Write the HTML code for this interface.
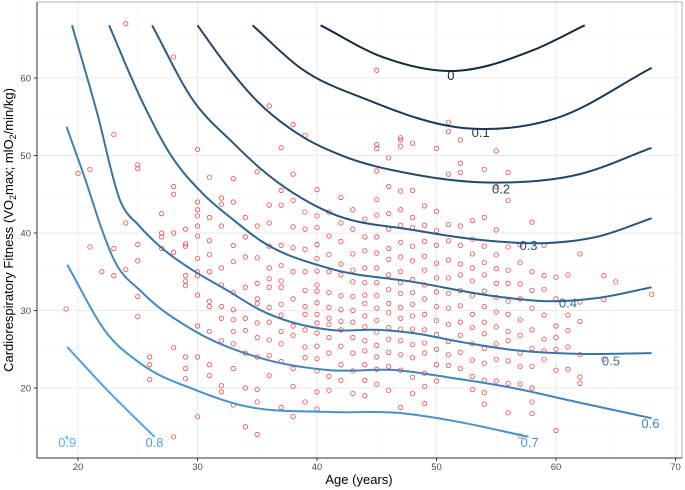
<!DOCTYPE html>
<html><head><meta charset="utf-8">
<style>
html,body{margin:0;padding:0;background:#fff;}
svg{display:block;font-family:"Liberation Sans",Arial,sans-serif;}
</style></head>
<body>
<svg id="chart" width="685" height="490" viewBox="0 0 685 490" xmlns="http://www.w3.org/2000/svg">
<g id="grid"></g>
<g id="points"></g>
<g id="curves"></g>
<g id="labels"></g>
<rect x="37" y="2" width="645" height="456" fill="none" stroke="#b3b3b3" stroke-width="1"/>
<line x1="37" y1="458" x2="682" y2="458" stroke="#333" stroke-width="1"/>
<line x1="37" y1="2" x2="37" y2="458" stroke="#333" stroke-width="1"/>
<g id="axes"></g>
<text x="359" y="484" font-size="13" text-anchor="middle" fill="#000">Age (years)</text>
<text transform="translate(13,230) rotate(-90)" font-size="13" text-anchor="middle" fill="#000">Cardiorespiratory Fitness (VO<tspan font-size="9" dy="3">2</tspan><tspan dy="-3">max;  mlO</tspan><tspan font-size="9" dy="3">2</tspan><tspan dy="-3">/min/kg)</tspan></text>
</svg>
<script>
// ---- data ----
const xTicks = [20, 30, 40, 50, 60, 70];
const yTicks = [20, 30, 40, 50, 60];
const curveLevels = [0, 0.1, 0.2, 0.3, 0.4, 0.5, 0.6, 0.7, 0.8, 0.9];
const curveAges = [
  [40.3, 45.5, 51.1, 58.1, 62.4],
  [34.6, 38.6, 44.2, 52.6, 60, 68],
  [30, 32, 35, 38.6, 41.9, 48, 55.1, 62, 68],
  [26.2, 29.6, 33, 35.2, 41.1, 48, 55.1, 59.2, 63.4, 68],
  [22.6, 25.3, 27.7, 30.5, 33, 35.2, 41.1, 48, 55.1, 59.2, 63.4, 68],
  [19.5, 21.6, 23.5, 25.2, 26.9, 29.6, 32.5, 35.2, 41.1, 45.3, 48, 52.2, 56.4, 62, 68],
  [19.05, 20.7, 22.1, 22.9, 25.4, 29.6, 35.2, 41.1, 46.7, 50.9, 56.4, 62, 68],
  [19.1, 22.4, 25.2, 29.9, 33.6, 41.1, 46.7, 50.9, 57.7],
  [19.1, 22.4, 26.4],
  [19.0, 19.15]
];
const curveValues = [
  [66.8, 62.7, 60.9, 63.6, 66.8],
  [66.8, 61.3, 57.2, 53.5, 54.8, 61.3],
  [66.8, 62.5, 57.0, 52.6, 50.1, 47.6, 46.5, 47.6, 51.0],
  [66.8, 57.2, 51.6, 48.4, 42.6, 40.4, 38.9, 38.7, 39.5, 41.9],
  [66.8, 57.2, 50.2, 45.0, 41.7, 39.1, 35.4, 33.7, 31.8, 31.2, 31.6, 33.0],
  [66.8, 55.5, 44.3, 40.8, 38.2, 35.2, 32.6, 30.1, 27.5, 27.5, 27.1, 25.9, 24.9, 24.4, 24.5],
  [53.7, 46.5, 40.0, 36.9, 32.3, 27.5, 23.9, 22.3, 22.3, 21.4, 20.0, 18.1, 16.1],
  [35.9, 27.1, 23.2, 19.7, 17.8, 16.9, 16.8, 15.9, 13.7],
  [25.3, 19.8, 13.7],
  [13.8, 13.4]
];
const labelAges = [51.2, 53.7, 55.4, 57.7, 61.0, 64.6, 67.9, 57.8, 26.4, 19.1];
const labelValues = [60.3, 53.0, 45.7, 38.4, 31.0, 23.5, 15.4, 13.0, 13.0, 13.0];
const pointAges = [];
const pointValues = [];
const pointCols = {
19:[30.2],20:[47.7],21:[48.2,38.2],22:[35],23:[52.7,38,34.5],24:[67,41.3,35.3],
25:[48.3,48.8,38.5,36.4,31.8,29.2],26:[24,23,21.1],27:[40,39.5,38,42.5],
28:[62.7,46,45,40,37.5,13.7,25.2],29:[40.5,38.3,34.5,33.2,33.8,38.6,22.5,24,21.2],
30:[50.8,44,40.9,36.7,35,34.5,32,28,24,16.3,43,39.6,42.2],
31:[47.2,42,39,37.2,35,31.2,27.3,30.5,23,21.6],
32:[44.5,43.7,40.9,35.5,33.3,30.5,26.1,29,20.3,19.5],
33:[47,44,38.4,36.3,32.3,30.1,28.8,27.3,25.7,22.5,17.8],
34:[42,39.5,36.9,33,29,24.5,27.4,15,20],
35:[47.9,40.9,36.8,33.5,31.5,30.9,28.4,26.5,24,19.8,18.2,14],
36:[56.4,43.6,41.3,38.3,35.5,34.1,33,30.4,28.5,26.2,24.2,21.6],
37:[51,45.5,43.6,38.4,35.8,33.8,33,30.8,29.4,27.3,25.7,23.4,17.5],
38:[54,47.6,44.2,40.8,38.1,35,31.5,28,26.8,22.5,20.2,16.3],
39:[52.6,42.7,40.5,37.9,35,32.6,30.5,29.5,27.5,25.3,23.9,18.2],
40:[45.6,42.2,40.7,38.5,36.7,35.1,33.3,32.5,31,29.5,28.4,27.1,25.4,23.8,22.2,19.5,17.3],
41:[42.7,39.6,37.2,35,32.3,30.4,29,28.2,26.5,24.5,21.5,19.7],
42:[44.6,41.3,38.9,36,34.6,31.9,30.1,28.6,27.5,25.4,23,21],
43:[43,40.5,37.3,35.2,33.7,31.8,30,28.5,26.5,24.5,22.2,19.3],
44:[41.8,39.5,37.7,35.5,33.6,32,30.9,29.3,27.9,26.1,24.8,23,21,19],
45:[61,51.4,50.9,48,44.3,42.3,39.5,37.4,35.5,33.6,31.9,30.3,28.7,27.2,25.5,24,22.4,20.5],
46:[49.7,46,42.5,40.5,38,36.6,34.6,32.7,30.9,29.7,27.8,26.3,24.6,22.8,19.7],
47:[52,52.3,51.2,45.4,43,41,38.8,36.9,35,33.6,32.2,30.4,29,27.6,26.1,24.3,22.3,17.5],
48:[51.6,45.5,42,40.7,38.3,36.4,34,32.3,30.8,29.3,27.6,25.6,23.9,21.4,19.3],
49:[43.5,41,38.9,37,35.2,33.3,31.5,29.5,27.5,25.8,24.5,21.9,20.2,18],
50:[50.9,42.8,40.3,38.4,36.1,34.2,32.4,30.5,28.7,26.9,25,23,20.9],
51:[54.3,53.1,47.6,41.1,39,36.5,34.2,32.2,30.3,28.2,26,24.3,22.9],
52:[52,49,47.8,40.9,38.4,36,34.6,32.6,30.6,28.5,26.8,24.6,22.5],
53:[41.6,39.2,37.3,35.5,33.8,31.9,29.5,27.8,25.7,23.6,21.5,19.8],
54:[48.2,42,38.3,36.2,34.6,32.5,30.5,28.5,27,25.1,23.2,21,19.4,17.9],
55:[50.6,46,40.4,37.2,35.4,33.5,31.7,29.8,27.9,25.7,23.7,20.9],
56:[47.8,44.2,38.2,35.2,33.5,31.2,29.5,27.3,26.1,23.5,20.6,16.8],
57:[38.5,36.2,33.4,31.5,28.8,26.8,24.5,22.8,20.5,13.8],
58:[41.4,35,32.6,30.3,27.5,25.1,22.8,20,18.2,16.7],
59:[38.4,34.5,32.7,29.4,26.3,24.8,23.7],
60:[34.3,31.5,28,26.5,25,22.3,14.5],
61:[34.6,29.4,27.4,25.3,22.4],
62:[37.3,31.1,28.6,24.3,21.4,20.6],
64:[34.5,31.4,23.7],65:[33.7],68:[32.1]
};
for (const k in pointCols) { for (const v of pointCols[k]) { pointAges.push(+k); pointValues.push(v); } }

// ---- scales ----
const X0 = 78, PXX = 11.95, Y0 = 388, PXY = 7.75;
const sx = a => X0 + (a - 20) * PXX;
const sy = v => Y0 - (v - 20) * PXY;
const NS = 'http://www.w3.org/2000/svg';
function mk(tag, attrs, parent) {
  const e = document.createElementNS(NS, tag);
  for (const k in attrs) e.setAttribute(k, attrs[k]);
  parent.appendChild(e); return e;
}
const grid = document.getElementById('grid');
const axes = document.getElementById('axes');
for (let a = 15; a <= 70; a += 5) {
  if (a % 10 === 0) continue;
  const g = mk('line', {x1: sx(a), x2: sx(a), y1: 2, y2: 458, stroke: '#f4f4f4', 'stroke-width': 0.6}, grid);
  
  
}
for (let v = 15; v <= 65; v += 10) {
  const g = mk('line', {x1: 37, x2: 682, y1: sy(v), y2: sy(v), stroke: '#f4f4f4', 'stroke-width': 0.6}, grid);
  
  
}
xTicks.forEach(t => {
  const g = mk('line', {x1: sx(t), x2: sx(t), y1: 2, y2: 458, stroke: '#ebebeb', 'stroke-width': 1.1}, grid);
  
  
  const tk = mk('line', {x1: sx(t), x2: sx(t), y1: 458, y2: 461, stroke: '#333', 'stroke-width': 1}, axes);
  
  
  const tx = mk('text', {x: sx(t), y: 470, 'font-size': 9.5, 'text-anchor': 'middle', fill: '#4d4d4d'}, axes);
  tx.textContent = t;
  
  
});
yTicks.forEach(t => {
  const g = mk('line', {x1: 37, x2: 682, y1: sy(t), y2: sy(t), stroke: '#ebebeb', 'stroke-width': 1.1}, grid);
  
  
  const tk = mk('line', {x1: 34, x2: 37, y1: sy(t), y2: sy(t), stroke: '#333', 'stroke-width': 1}, axes);
  
  
  const tx = mk('text', {x: 31, y: sy(t) + 3.5, 'font-size': 9.5, 'text-anchor': 'end', fill: '#4d4d4d'}, axes);
  tx.textContent = t;
  
  
});
const pg = document.getElementById('points');
for (let i = 0; i < pointAges.length; i++) {
  const c = mk('circle', {cx: sx(pointAges[i]), cy: sy(pointValues[i]), r: 2.2, fill: 'none', stroke: '#f0484a', 'stroke-width': 0.8}, pg);
  
  
}
function col(l) {
  const t = l / 0.9;
  const a = [19, 43, 67], b = [86, 177, 247];
  return 'rgb(' + a.map((v, i) => Math.round(v + (b[i] - v) * t)).join(',') + ')';
}
// Hermite spline in data space (function of age), non-uniform tangents
function pathFrom(xs, ys) {
  const n = xs.length;
  const m = [];
  for (let i = 0; i < n; i++) {
    if (n === 2) { m.push((ys[1] - ys[0]) / (xs[1] - xs[0])); continue; }
    if (i === 0) m.push((ys[1] - ys[0]) / (xs[1] - xs[0]));
    else if (i === n - 1) m.push((ys[n - 1] - ys[n - 2]) / (xs[n - 1] - xs[n - 2]));
    else {
      const d0 = (ys[i] - ys[i - 1]) / (xs[i] - xs[i - 1]);
      const d1 = (ys[i + 1] - ys[i]) / (xs[i + 1] - xs[i]);
      const h0 = xs[i] - xs[i - 1], h1 = xs[i + 1] - xs[i];
      m.push((d0 * h1 + d1 * h0) / (h0 + h1));
    }
  }
  let d = 'M' + sx(xs[0]).toFixed(1) + ',' + sy(ys[0]).toFixed(1);
  for (let i = 0; i < n - 1; i++) {
    const h = xs[i + 1] - xs[i];
    const c1x = xs[i] + h / 3, c1y = ys[i] + m[i] * h / 3;
    const c2x = xs[i + 1] - h / 3, c2y = ys[i + 1] - m[i + 1] * h / 3;
    d += ' C' + sx(c1x).toFixed(1) + ',' + sy(c1y).toFixed(1) + ' ' + sx(c2x).toFixed(1) + ',' + sy(c2y).toFixed(1) + ' ' + sx(xs[i + 1]).toFixed(1) + ',' + sy(ys[i + 1]).toFixed(1);
  }
  return d;
}
const cg = document.getElementById('curves');
const lg = document.getElementById('labels');
curveLevels.forEach((l, i) => {
  const path = mk('path', {d: pathFrom(curveAges[i], curveValues[i]), fill: 'none', stroke: col(l), 'stroke-width': 2}, cg);
  
  
  const t = mk('text', {x: sx(labelAges[i]), y: sy(labelValues[i]) + 4.5, 'font-size': 13, 'text-anchor': 'middle', fill: col(l)}, lg);
  t.textContent = String(l);
  
  
});
</script>
</body></html>
